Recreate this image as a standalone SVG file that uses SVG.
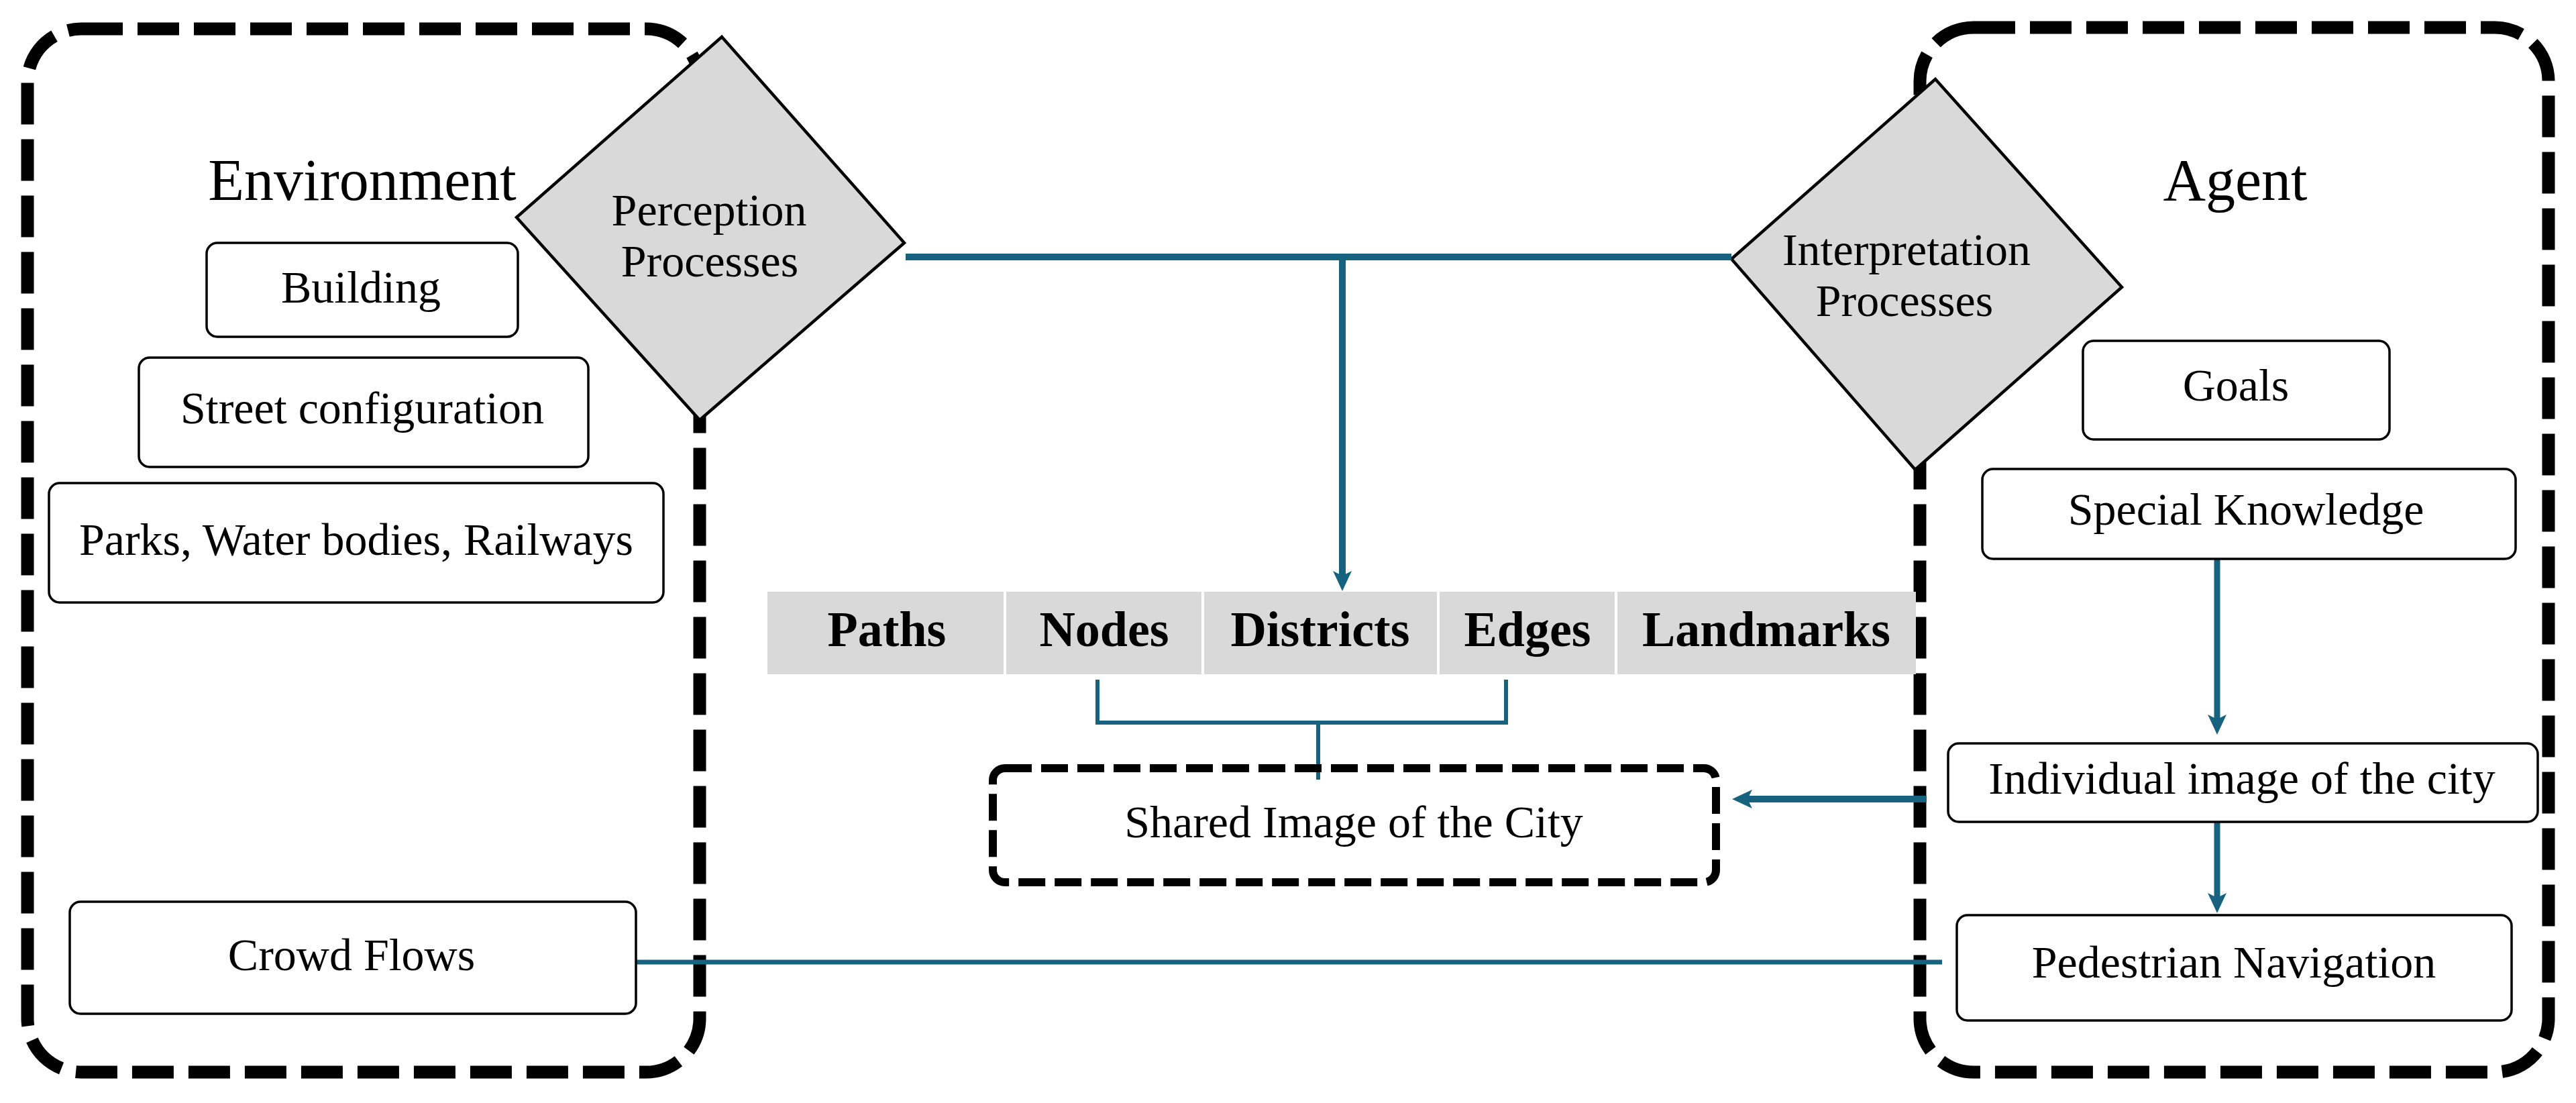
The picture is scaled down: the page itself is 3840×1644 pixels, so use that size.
<svg xmlns="http://www.w3.org/2000/svg" width="3840" height="1644" viewBox="0 0 3840 1644">
<defs>
<style>
.big{fill:none;stroke:#000;stroke-width:19;stroke-dasharray:62 22}
.dia{fill:#d9d9d9;stroke:#000;stroke-width:4.5;stroke-linejoin:miter}
.box{fill:#fff;stroke:#000;stroke-width:3.5}
.lbl{font-family:"Liberation Serif","Times New Roman",serif;font-size:68px;fill:#000;text-anchor:middle}
.title{font-family:"Liberation Serif","Times New Roman",serif;font-size:88px;fill:#000;text-anchor:middle}
.cell{font-family:"Liberation Serif","Times New Roman",serif;font-size:74px;font-weight:bold;fill:#000;text-anchor:middle}
.con{fill:none;stroke:#17627f;stroke-linecap:butt}
</style>
<marker id="ah" viewBox="0 0 30 28" refX="7" refY="14" markerWidth="30" markerHeight="28" markerUnits="userSpaceOnUse" orient="auto">
<path d="M0,0 L30,14 L0,28 L7,14 Z" fill="#17627f"/>
</marker>
</defs>
<rect width="3840" height="1644" fill="#fff"/>

<g id="environment">
<rect class="big" x="41" y="43" width="1002" height="1555" rx="80" ry="80"/>
<text class="title" x="540" y="298">Environment</text>
</g>
<g id="agent">
<rect class="big" x="2862" y="41" width="937" height="1557" rx="80" ry="80"/>
<text class="title" x="3332" y="298">Agent</text>
</g>

<g id="perception">
<polygon class="dia" points="1076,55 1348,362 1043,626 770,324"/>
<text class="lbl" x="1057" y="336">Perception</text>
<text class="lbl" x="1058" y="412">Processes</text>
</g>
<g id="interpretation">
<polygon class="dia" points="2885,118 3163,428 2855,700 2581,386"/>
<text class="lbl" x="2842" y="395">Interpretation</text>
<text class="lbl" x="2839" y="471">Processes</text>
</g>

<g id="elements">
<rect x="1144" y="882" width="1712" height="123" fill="#d9d9d9"/>
<g stroke="#fff" stroke-width="4">
<line x1="1498" y1="882" x2="1498" y2="1005"/>
<line x1="1793" y1="882" x2="1793" y2="1005"/>
<line x1="2144" y1="882" x2="2144" y2="1005"/>
<line x1="2409" y1="882" x2="2409" y2="1005"/>
</g>
<text class="cell" x="1322" y="963">Paths</text>
<text class="cell" x="1646" y="963">Nodes</text>
<text class="cell" x="1968" y="963">Districts</text>
<text class="cell" x="2277" y="963">Edges</text>
<text class="cell" x="2633" y="963">Landmarks</text>
</g>

<g id="connectors">
<path class="con" stroke-width="10" d="M1350,383 H2581"/>
<path class="con" stroke-width="10" d="M2001,383 V858" marker-end="url(#ah)"/>
<path class="con" stroke-width="6" d="M1636,1013 V1077 H2245 V1013"/>
<path class="con" stroke-width="6" d="M1965,1077 V1162"/>
<path class="con" stroke-width="10" d="M2872,1191 H2605" marker-end="url(#ah)"/>
<path class="con" stroke-width="9" d="M3305,833 V1072" marker-end="url(#ah)"/>
<path class="con" stroke-width="9" d="M3305,1226 V1338" marker-end="url(#ah)"/>
<path class="con" stroke-width="7" d="M948,1434 H2895"/>
</g>

<g id="shared">
<rect x="1480" y="1145" width="1078" height="170" rx="18" ry="18" fill="none" stroke="#000" stroke-width="12" stroke-dasharray="40 14"/>
<text class="lbl" x="2018" y="1248">Shared Image of the City</text>
</g>

<g id="building">
<rect class="box" x="308" y="362" width="464" height="140" rx="16"/>
<text class="lbl" x="538" y="451">Building</text>
</g>
<g id="street">
<rect class="box" x="207" y="533" width="670" height="163" rx="16"/>
<text class="lbl" x="540" y="631">Street configuration</text>
</g>
<g id="parks">
<rect class="box" x="73" y="720" width="916" height="178" rx="16"/>
<text class="lbl" x="531" y="827">Parks, Water bodies, Railways</text>
</g>
<g id="crowd">
<rect class="box" x="104" y="1344" width="844" height="167" rx="16"/>
<text class="lbl" x="524" y="1446">Crowd Flows</text>
</g>
<g id="goals">
<rect class="box" x="3105" y="508" width="457" height="147" rx="16"/>
<text class="lbl" x="3333" y="597">Goals</text>
</g>
<g id="special">
<rect class="box" x="2955" y="699" width="795" height="134" rx="16"/>
<text class="lbl" x="3348" y="782">Special Knowledge</text>
</g>
<g id="individual">
<rect class="box" x="2904" y="1108" width="879" height="117" rx="16"/>
<text class="lbl" x="3342" y="1183">Individual image of the city</text>
</g>
<g id="pedestrian">
<rect class="box" x="2917" y="1364" width="827" height="157" rx="16"/>
<text class="lbl" x="3330" y="1457">Pedestrian Navigation</text>
</g>
</svg>
